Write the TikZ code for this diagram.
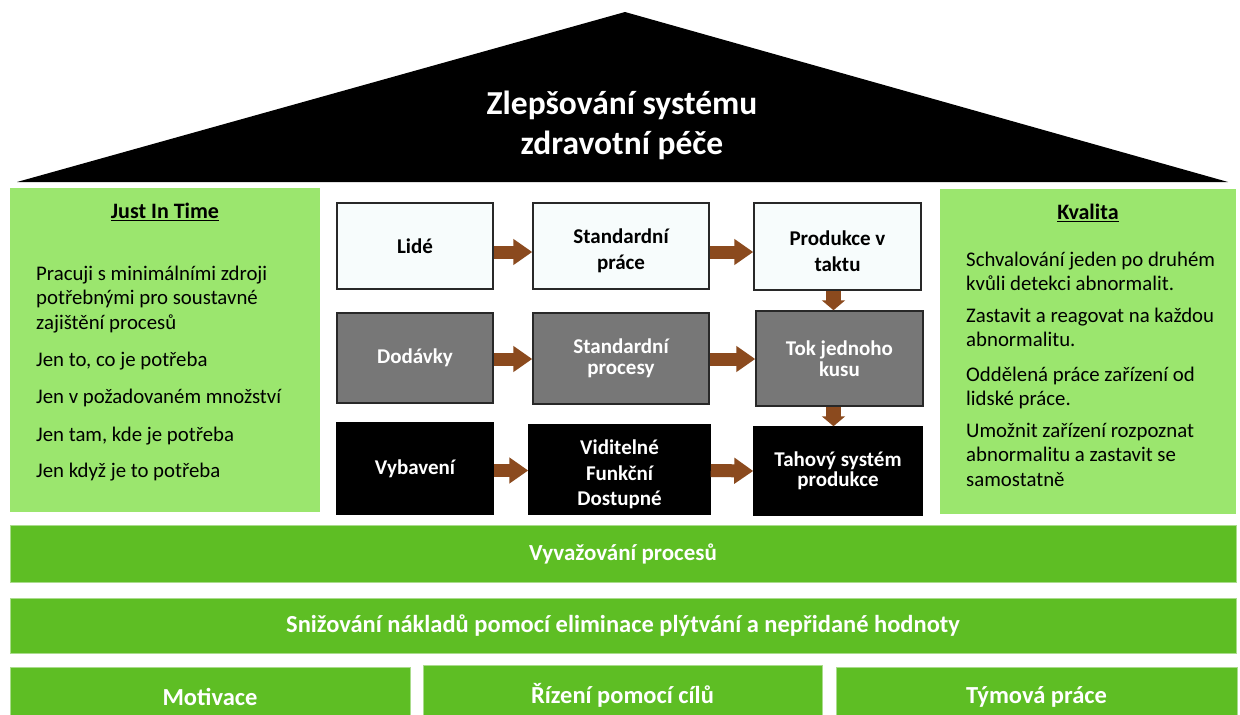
\documentclass[tikz,border=0pt]{standalone}
\usepackage{fontspec}
\setmainfont{Carlito}
\usetikzlibrary{arrows.meta,calc}

\definecolor{pillar}{RGB}{155,230,110}
\definecolor{band}{RGB}{94,190,36}
\definecolor{bandedge}{RGB}{170,220,140}
\definecolor{flowbrown}{RGB}{139,74,30}
\definecolor{boxgray}{RGB}{119,119,119}
\definecolor{boxwhite}{RGB}{247,252,252}
\definecolor{boxedge}{RGB}{40,40,40}

% a tall invisible strut that pushes a centred text block a little lower
\newcommand{\lowerstrut}{\rule{0pt}{25pt}}

\tikzset{
  roof/.style={fill=black},
  pillarbox/.style={fill=pillar, draw=none},
  heading/.style={font=\fontsize{22}{26}\selectfont\bfseries, anchor=center},
  bodytext/.style={font=\fontsize{20.8}{24.5}\selectfont, anchor=base west, inner sep=0pt},
  stepwhite/.style={draw=boxedge, line width=1.5pt, fill=boxwhite, text=black,
    font=\fontsize{21}{26}\selectfont\bfseries, align=center},
  stepgray/.style={stepwhite, fill=boxgray, text=white},
  stepblack/.style={stepwhite, fill=black, draw=black, text=white},
  bandbox/.style={fill=band, draw=bandedge, line width=0.8pt, text=white,
    font=\fontsize{24.5}{28}\selectfont\bfseries},
  flowh/.style={draw=flowbrown, line width=13pt, -{Triangle[length=19pt,width=25pt]}},
  flowv/.style={draw=flowbrown, line width=15pt, -{Triangle[length=10pt,width=23pt]}}
}

\begin{document}
\begin{tikzpicture}[x=1pt,y=-1pt]
\useasboundingbox (0,0) rectangle (1240,715);
\clip (0,0) rectangle (1240,715);
\fill[white] (0,0) rectangle (1240,715);

% roof
\fill[roof] (17,182) -- (625,12) -- (1228,182) -- cycle;
\node[text=white, font=\fontsize{33.5}{40}\selectfont\bfseries, align=center] (title)
  at (622,125) {Zlepšování systému\\zdravotní péče};

% side pillars
\fill[pillarbox] (10,188) rectangle (320,512);
\fill[pillarbox] (940,189) rectangle (1236,514);

\node[heading] (jit) at (165,212) {\underline{Just In Time}};
\node[bodytext] (jittext) at (36,280) {\parbox[t]{280pt}{\raggedright
  Pracuji s minimálními zdroji\\potřebnými pro soustavné\\zajištění procesů\\[12.5pt]
  Jen to, co je potřeba\\[13pt]
  Jen v požadovaném množství\\[13pt]
  Jen tam, kde je potřeba\\[12pt]
  Jen když je to potřeba}};

\node[heading] (kval) at (1088,213) {\underline{Kvalita}};
\node[bodytext] (kvaltext) at (966,266) {\parbox[t]{268pt}{\raggedright
  Schvalování jeden po druhém\\kvůli detekci abnormalit.\\[7pt]
  Zastavit a reagovat na každou\\abnormalitu.\\[10pt]
  Oddělená práce zařízení od\\lidské práce.\\[7pt]
  Umožnit zařízení rozpoznat\\abnormalitu a zastavit se\\samostatně}};

% flow boxes
\node[stepwhite, minimum width=156, minimum height=86] (lide) at (415,246) {Lidé};
\node[stepwhite, minimum width=176, minimum height=86] (stdprace) at (621,246) {\lowerstrut Standardní\\práce};
\node[stepwhite, minimum width=167, minimum height=87] (produkce) at (837.5,246.5) {\lowerstrut Produkce v\\taktu};

\node[stepgray, minimum width=156, minimum height=90] (dodavky) at (415,358) {Dodávky};
\node[stepgray, minimum width=176, minimum height=91,
  font=\fontsize{21}{21.5}\selectfont\bfseries] (stdproc) at (621,358.5) {Standardní\\procesy};
\node[stepgray, minimum width=167, minimum height=95,
  font=\fontsize{21}{20.5}\selectfont\bfseries] (tok) at (839.5,358.5) {Tok jednoho\\kusu};

\node[stepblack, minimum width=156, minimum height=91] (vybaveni) at (415,468.5) {Vybavení};
\node[stepblack, minimum width=181, minimum height=89,
  font=\fontsize{21}{25.5}\selectfont\bfseries] (viditelne) at (619.5,469.5) {\lowerstrut Viditelné\\Funkční\\Dostupné};
\node[stepblack, minimum width=168, minimum height=88,
  font=\fontsize{21}{19.5}\selectfont\bfseries] (tahovy) at (838,471) {Tahový systém\\produkce};

% connectors
\draw[flowh] ($(lide.east)+(0,6)$) -- ($(stdprace.west)+(0,6)$);
\draw[flowh] ($(stdprace.east)+(0,6)$) -- ($(produkce.west)+(0,5.5)$);
\draw[flowh] ($(dodavky.east)+(0,1)$) -- ($(stdproc.west)+(0,0.5)$);
\draw[flowh] ($(stdproc.east)+(0,0.5)$) -- ($(tok.west)+(0,0.5)$);
\draw[flowh] ($(vybaveni.east)+(0,2)$) -- ($(viditelne.west)+(0,1)$);
\draw[flowh] ($(viditelne.east)+(0,1)$) -- ($(tahovy.west)+(0,0)$);
\coordinate (v1) at ($(produkce.south)+(-4,0)$);
\draw[flowv] (v1) -- (v1 |- tok.north);
\coordinate (v2) at ($(tok.south)+(-6,0)$);
\draw[flowv] (v2) -- (v2 |- tahovy.north);

% foundation bands
\node[bandbox, minimum width=1226, minimum height=57,
  font=\fontsize{23}{28}\selectfont\bfseries] (vyvaz) at (623,553.5) {Vyvažování procesů};
\node[bandbox, minimum width=1226, minimum height=55] (snizeni) at (623,625.5)
  {Snižování nákladů pomocí eliminace plýtvání a nepřidané hodnoty};
\node[bandbox, minimum width=400, minimum height=60] (motivace) at (210,697) {Motivace};
\node[bandbox, minimum width=399, minimum height=60] (rizeni) at (622.5,695) {Řízení pomocí cílů};
\node[bandbox, minimum width=401, minimum height=60] (tym) at (1036.5,697) {Týmová práce};
\end{tikzpicture}
\end{document}
